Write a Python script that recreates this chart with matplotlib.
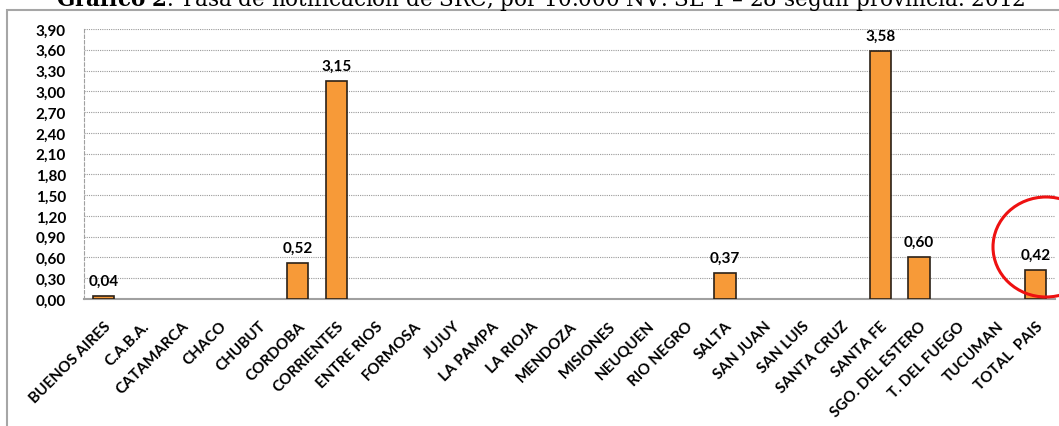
import matplotlib.pyplot as plt
import numpy as np
from matplotlib.patches import Ellipse, Rectangle

provincias = ['BUENOS AIRES', 'C.A.B.A.', 'CATAMARCA', 'CHACO', 'CHUBUT', 'CORDOBA',
              'CORRIENTES', 'ENTRE RIOS', 'FORMOSA', 'JUJUY', 'LA PAMPA', 'LA RIOJA',
              'MENDOZA', 'MISIONES', 'NEUQUEN', 'RIO NEGRO', 'SALTA', 'SAN JUAN',
              'SAN LUIS', 'SANTA CRUZ', 'SANTA FE', 'SGO. DEL ESTERO', 'T. DEL FUEGO',
              'TUCUMAN', 'TOTAL  PAIS']
tasas = [0.04, 0, 0, 0, 0, 0.52, 3.15, 0, 0, 0, 0, 0, 0, 0, 0, 0, 0.37, 0, 0, 0,
         3.58, 0.60, 0, 0, 0.42]
yticks = np.arange(0, 3.91, 0.30)

plt.rcParams['mathtext.fontset'] = 'dejavuserif'

W, H = 1059, 427
fig = plt.figure(figsize=(W / 100, H / 100), dpi=100)
ax = fig.add_axes([84 / W, 1 - 300 / H, (1055 - 84) / W, 270 / H])

x = np.arange(len(provincias))
tasas = np.array(tasas)
con_casos = tasas > 0
# provinces without notifications get no bar at all
ax.bar(x[con_casos], tasas[con_casos], width=0.55, color='#F79A38', edgecolor='#2b2118',
       linewidth=1.2, zorder=3)

for xi, v in zip(x[con_casos], tasas[con_casos]):
    ax.text(xi, v + 0.12, f'{v:.2f}'.replace('.', ','), ha='center', va='bottom',
            fontsize=11, fontweight='bold', family='Lato', zorder=4)

ax.set_xlim(-0.5, len(provincias) - 0.5)
ax.set_ylim(0, 3.9)
ax.set_yticks(yticks)
ax.set_yticklabels([f'{t:.2f}'.replace('.', ',') for t in yticks],
                   fontsize=11, fontweight='bold', family='Lato')
ax.set_xticks(x)
ax.set_xticklabels(provincias, rotation=45, ha='right', va='top', rotation_mode='anchor',
                   fontsize=11, fontweight='bold', family='Lato')
ax.tick_params(length=0)
ax.tick_params(axis='y', pad=13)
ax.tick_params(axis='x', pad=14)

ax.grid(axis='y', linestyle=(0, (1, 1)), color='#9a9a9a', linewidth=0.8, zorder=0)
for s in ['top', 'right']:
    ax.spines[s].set_visible(False)
ax.spines['left'].set_linestyle((0, (3, 2)))
ax.spines['left'].set_color('#a0a0a0')
ax.spines['left'].set_linewidth(0.8)
ax.spines['bottom'].set_color('#a0a0a0')
ax.spines['bottom'].set_linewidth(1.5)

# outer frame of the chart
fig.patches.append(Rectangle((7 / W, -0.1), 1.2, 1 - 11 / H + 0.1, transform=fig.transFigure,
                             fill=False, edgecolor='#a6a6a6', linewidth=1.5))

# highlight around the country total
fig.patches.append(Ellipse((1046 / W, 1 - 248 / H), 106 / W, 100 / H, transform=fig.transFigure,
                           fill=False, edgecolor='#ee1111', linewidth=2.2, zorder=5))

fig.text(541 / W, 1 - 6 / H,
         r'$\mathbf{Gráfico\ 2}$. Tasa de notificación de SRC, por 10.000 NV. SE 1 – 28 según provincia. 2012',
         ha='center', va='baseline', fontsize=15.5, family='DejaVu Serif')

fig.savefig('out.png', dpi=100)
